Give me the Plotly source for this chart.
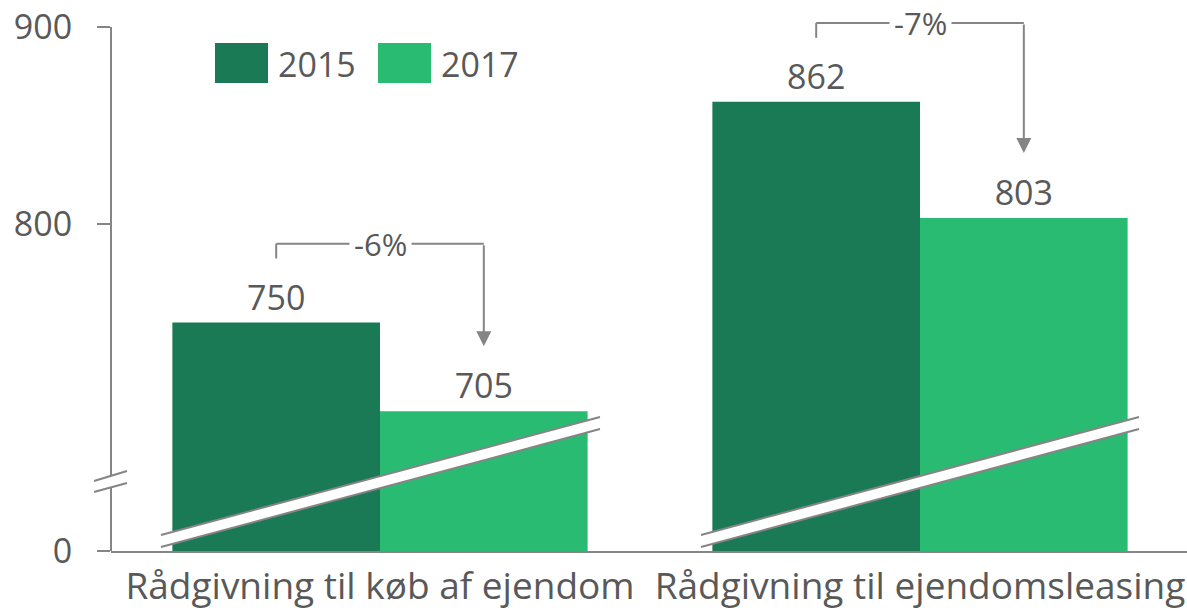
import plotly.graph_objects as go

# ---------------- data ----------------
categories = ["Rådgivning til køb af ejendom", "Rådgivning til ejendomsleasing"]
years = ["2015", "2017"]
values_2015 = [750, 862]
values_2017 = [705, 803]
changes = ["-6%", "-7%"]
y_tickvals_real = [0, 800, 900]
y_ticklabels = ["0", "800", "900"]

# ---------------- style ----------------
COLORS = ["#1a7a55", "#2abb73"]
TEXT = "#595959"
GRAY = "#858585"
FONT = "Open Sans"

W_FIG, H_FIG = 1187, 610
L, R, T, B = 111, 0, 10, 59
PW = W_FIG - L - R
PH = H_FIG - T - B
PX_PER_UNIT = 1.97          # pixels per value unit above the axis break
BREAK_BASE = 800 - 327 / PX_PER_UNIT   # value shown at the bottom ("0")
Y_TOP = 800 + (224 - T) / PX_PER_UNIT


def px(x):
    return (x - L) / PW


def py(y):
    return (H_FIG - B - y) / PH


def disp(v):
    """map real axis tick values onto the broken axis"""
    return BREAK_BASE if v == 0 else v


BARGAP = 0.231
half = (1 - BARGAP) / 2
offs = [-half / 2, half / 2]

fig = go.Figure()
for i, (yr, vals) in enumerate(zip(years, [values_2015, values_2017])):
    fig.add_trace(go.Bar(
        x=categories, y=vals, name=yr,
        marker=dict(color=COLORS[i], line=dict(width=0)),
        text=vals, texttemplate="%{y}", textposition="outside",
        textfont=dict(family=FONT, size=34, color=TEXT),
        showlegend=False, hoverinfo="skip",
    ))

shapes = []
annotations = []

# y-axis line with break
shapes.append(dict(type="line", xref="paper", yref="paper", x0=0, x1=0,
                   y0=py(551), y1=py(488), line=dict(color=GRAY, width=2)))
shapes.append(dict(type="line", xref="paper", yref="y", x0=0, x1=0,
                   y0=BREAK_BASE + (551 - 476) / PX_PER_UNIT, y1=900,
                   line=dict(color=GRAY, width=2)))
# y-axis break marks
for (ya, yb) in [(481, 471), (492, 483)]:
    shapes.append(dict(type="line", xref="paper", yref="paper",
                       x0=px(94), x1=px(127), y0=py(ya), y1=py(yb),
                       line=dict(color=GRAY, width=2)))

# break bands across bar groups
for (xa, xb) in [(161, 600), (701, 1139)]:
    up_a, up_b, lo_a, lo_b = 535, 417, 547, 429
    path = (f"M {px(xa)},{py(up_a)} L {px(xb)},{py(up_b)} "
            f"L {px(xb)},{py(lo_b)} L {px(xa)},{py(lo_a)} Z")
    shapes.append(dict(type="path", xref="paper", yref="paper", path=path,
                       fillcolor="white", line=dict(width=0)))
    for (ya, yb) in [(up_a, up_b), (lo_a, lo_b)]:
        shapes.append(dict(type="line", xref="paper", yref="paper",
                           x0=px(xa), x1=px(xb), y0=py(ya), y1=py(yb),
                           line=dict(color=GRAY, width=2)))

# change brackets
for i in range(len(categories)):
    xa = i + offs[0]
    xb = i + offs[1]
    y_stub = values_2015[i] + 32.5
    y_h = values_2015[i] + 40
    y_tip = values_2017[i] + 33
    shapes.append(dict(type="line", xref="x", yref="y", x0=xa, x1=xa,
                       y0=y_stub, y1=y_h, line=dict(color=GRAY, width=2)))
    shapes.append(dict(type="line", xref="x", yref="y", x0=xa, x1=xb,
                       y0=y_h, y1=y_h, line=dict(color=GRAY, width=2)))
    annotations.append(dict(x=xb, y=y_tip, ax=xb, ay=y_h, xref="x", yref="y",
                            axref="x", ayref="y", showarrow=True, text="",
                            arrowhead=2, arrowsize=1.5, arrowwidth=2,
                            arrowcolor=GRAY))
    annotations.append(dict(x=i, y=y_h, xref="x", yref="y", text=changes[i],
                            showarrow=False, bgcolor="white", borderpad=4,
                            font=dict(family=FONT, size=31, color=TEXT)))

# legend (manual, large swatches)
for i, yr in enumerate(years):
    x0 = [215, 378][i]
    shapes.append(dict(type="rect", xref="paper", yref="paper",
                       x0=px(x0), x1=px(x0 + 53), y0=py(83), y1=py(43),
                       fillcolor=COLORS[i], line=dict(width=0)))
    annotations.append(dict(x=px(x0 + 61), y=py(64), xref="paper", yref="paper",
                            text=yr, showarrow=False, xanchor="left", yanchor="middle",
                            font=dict(family=FONT, size=34, color=TEXT)))

fig.update_layout(
    width=W_FIG, height=H_FIG,
    margin=dict(l=L, r=R, t=T, b=B),
    paper_bgcolor="white", plot_bgcolor="white",
    barmode="group", bargap=BARGAP, bargroupgap=0,
    shapes=shapes, annotations=annotations,
    showlegend=False,
    font=dict(family=FONT, color=TEXT),
)
fig.update_xaxes(
    range=[-(380 - L) / 540, (W_FIG - 380) / 540],
    showline=True, linecolor=GRAY, linewidth=2,
    showgrid=False, zeroline=False, ticks="",
    tickfont=dict(family=FONT, size=37, color=TEXT),
    ticklabelstandoff=2, automargin=False,
)
fig.update_yaxes(
    range=[BREAK_BASE, Y_TOP],
    tickvals=[disp(v) for v in y_tickvals_real], ticktext=y_ticklabels,
    ticks="outside", ticklen=13, tickwidth=2, tickcolor=GRAY,
    showline=False, showgrid=False, zeroline=False,
    tickfont=dict(family=FONT, size=34, color=TEXT),
    ticklabelstandoff=18, automargin=False,
)

fig.write_html("out.html",
               config={"displayModeBar": False},
               post_script="document.body.style.margin='0';"
                           "document.body.style.overflow='hidden';")
